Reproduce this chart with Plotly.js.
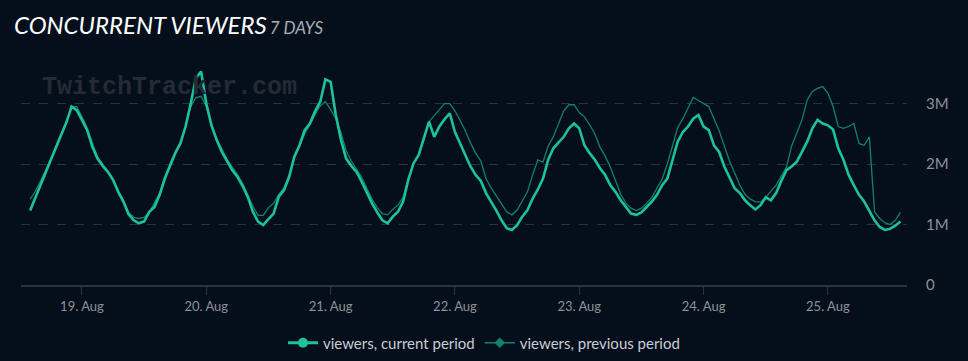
<!DOCTYPE html>
<html>
<head>
<meta charset="utf-8">
<script src="https://cdn.plot.ly/plotly-3.0.1.min.js"></script>
<style>
  html, body { margin: 0; padding: 0; background: #050f1c; }
  #chart { width: 968px; height: 361px; }
</style>
</head>
<body>
<div id="chart"></div>
<script>
// hourly samples, first sample at 18 Aug 14:00
var startTime = "2024-08-18T14:00:00";
var stepHours = 1;

// viewers, current period (millions)
var currentViewers = [
  1.23,1.43,1.65,1.86,2.07,2.28,2.49,2.69,2.95,2.89,2.73,2.56,2.29,2.09,1.97,1.87,1.74,1.54,1.38,1.17,1.07,1.02,1.05,1.21,
  1.29,1.49,1.76,1.98,2.18,2.34,2.62,3.00,3.42,3.53,3.00,2.64,2.40,2.20,2.04,1.90,1.79,1.64,1.46,1.21,1.05,0.99,1.09,1.18,
  1.46,1.57,1.79,2.12,2.31,2.56,2.67,2.87,3.03,3.40,3.36,2.81,2.40,2.09,1.97,1.87,1.71,1.52,1.35,1.20,1.07,1.02,1.13,1.21,
  1.38,1.74,2.01,2.15,2.42,2.70,2.45,2.62,2.74,2.84,2.53,2.34,2.15,1.96,1.82,1.72,1.52,1.38,1.23,1.07,0.94,0.91,0.99,1.13,
  1.24,1.43,1.58,1.76,2.07,2.26,2.35,2.45,2.59,2.67,2.59,2.31,2.18,2.07,1.93,1.82,1.65,1.54,1.40,1.29,1.18,1.16,1.20,1.29,
  1.38,1.49,1.65,1.76,2.07,2.37,2.53,2.62,2.75,2.81,2.62,2.56,2.31,2.20,1.96,1.79,1.60,1.52,1.40,1.32,1.25,1.32,1.45,1.40,
  1.52,1.72,1.90,1.96,2.04,2.20,2.37,2.59,2.73,2.67,2.64,2.57,2.26,2.07,1.82,1.65,1.49,1.38,1.23,1.07,0.96,0.91,0.93,0.98,
  1.05
];

// viewers, previous period (millions)
var previousViewers = [
  1.42,1.55,1.72,1.90,2.08,2.30,2.50,2.70,2.95,2.95,2.78,2.60,2.35,2.12,2.00,1.88,1.72,1.55,1.40,1.20,1.12,1.10,1.12,1.20,
  1.35,1.52,1.78,2.00,2.18,2.34,2.60,2.95,3.10,3.12,2.95,2.66,2.42,2.25,2.08,1.95,1.83,1.68,1.50,1.30,1.15,1.15,1.28,1.35,
  1.50,1.60,1.82,2.10,2.30,2.50,2.65,2.82,2.96,3.03,2.90,2.75,2.52,2.22,2.05,1.92,1.78,1.60,1.42,1.28,1.18,1.16,1.25,1.32,
  1.45,1.76,2.00,2.15,2.40,2.70,2.80,2.90,3.00,3.00,2.88,2.72,2.55,2.35,2.18,2.05,1.76,1.60,1.46,1.34,1.21,1.16,1.24,1.38,
  1.54,1.82,2.07,2.03,2.30,2.45,2.68,2.88,2.98,2.98,2.85,2.78,2.65,2.50,2.28,2.13,1.95,1.72,1.50,1.35,1.27,1.23,1.27,1.35,
  1.45,1.60,1.75,2.00,2.30,2.60,2.75,2.92,3.10,3.05,3.00,2.95,2.75,2.55,2.30,2.05,1.85,1.65,1.50,1.42,1.38,1.37,1.45,1.55,
  1.65,1.80,1.95,2.30,2.53,2.73,3.06,3.20,3.25,3.28,3.17,2.95,2.62,2.59,2.62,2.67,2.34,2.31,2.45,1.21,1.10,1.03,1.00,1.07,
  1.20
];

var yTickValues = [0, 1, 2, 3];
var yTickLabels = ["0", "1M", "2M", "3M"];
var seriesNames = ["viewers, current period", "viewers, previous period"];

function pad(n){ return (n < 10 ? "0" : "") + n; }
function timeAxis(n){
  var t0 = new Date(startTime + "Z").getTime();
  var out = [];
  for (var i = 0; i < n; i++) {
    var d = new Date(t0 + i * stepHours * 3600000);
    out.push(d.getUTCFullYear() + "-" + pad(d.getUTCMonth()+1) + "-" + pad(d.getUTCDate()) + " " + pad(d.getUTCHours()) + ":00");
  }
  return out;
}
function toViewers(arr){ return arr.map(function(v){ return v * 1e6; }); }

var curColor = "#1cc19f";
var prevColor = "#118170";

var traces = [
  {
    x: timeAxis(previousViewers.length), y: toViewers(previousViewers),
    type: "scatter", mode: "lines", name: seriesNames[1], showlegend: false,
    line: { color: prevColor, width: 1.3 }, hoverinfo: "skip"
  },
  {
    x: timeAxis(currentViewers.length), y: toViewers(currentViewers),
    type: "scatter", mode: "lines", name: seriesNames[0], showlegend: false,
    line: { color: curColor, width: 2.6 }, hoverinfo: "skip"
  },
  {
    x: [null], y: [null], type: "scatter", mode: "lines+markers", name: seriesNames[0],
    line: { color: curColor, width: 3 }, marker: { symbol: "circle", size: 10, color: curColor }
  },
  {
    x: [null], y: [null], type: "scatter", mode: "lines+markers", name: seriesNames[1],
    line: { color: prevColor, width: 1.5 }, marker: { symbol: "diamond", size: 8, color: prevColor }
  }
];

var layout = {
  width: 968, height: 361,
  paper_bgcolor: "#050f1c", plot_bgcolor: "#050f1c",
  margin: { l: 21, r: 61, t: 60, b: 76, autoexpand: false },
  font: { family: "Lato, 'Open Sans', sans-serif", color: "#8b9199", size: 13 },
  title: {
    text: "<i>CONCURRENT VIEWERS</i>&#8201;<i><span style=\"font-size:17px;color:#a9adb3\">7 DAYS</span></i>",
    font: { family: "Lato, sans-serif", size: 24, color: "#ffffff" },
    x: 14/968, xref: "container", xanchor: "left",
    y: 1 - 26/361, yref: "container", yanchor: "middle"
  },
  xaxis: {
    type: "date",
    range: ["2024-08-18 12:14", "2024-08-25 15:16"],
    tickformat: "%-d. %b",
    dtick: 86400000,
    tick0: "2024-08-19 00:00",
    showgrid: false,
    showline: true, linecolor: "#2a3441", linewidth: 2,
    ticks: "outside", ticklen: 8, tickwidth: 1, tickcolor: "#2a3441",
    tickfont: { family: "Lato, sans-serif", size: 13, color: "#8b9199" },
    zeroline: false, fixedrange: true, automargin: false
  },
  yaxis: {
    range: [0, 3.72e6],
    side: "right",
    tickvals: yTickValues.map(function(v){ return v * 1e6; }),
    ticktext: yTickLabels,
    showgrid: true, gridcolor: "#2a323d", griddash: "dash", gridwidth: 1,
    zeroline: false, showline: false, ticks: "",
    ticklabelstandoff: 18,
    tickfont: { family: "Lato, sans-serif", size: 15, color: "#8b9199" },
    fixedrange: true, automargin: false
  },
  legend: {
    orientation: "h", x: 0.5, xref: "container", xanchor: "center",
    y: 1 - 343/361, yref: "container", yanchor: "middle",
    font: { family: "Lato, sans-serif", size: 15, color: "#c9cdd2" },
    bgcolor: "rgba(0,0,0,0)", itemwidth: 30
  },
  annotations: [{
    text: "<b>TwitchTracker.com</b>",
    xref: "paper", yref: "paper",
    x: 19/886, xanchor: "left", y: (285-87)/225, yanchor: "middle",
    showarrow: false,
    font: { family: "'Liberation Mono', 'Courier New', monospace", size: 25, color: "#242b34" }
  }],
  showlegend: true
};

Plotly.newPlot("chart", traces, layout, { displayModeBar: false, staticPlot: true });
</script>
</body>
</html>
